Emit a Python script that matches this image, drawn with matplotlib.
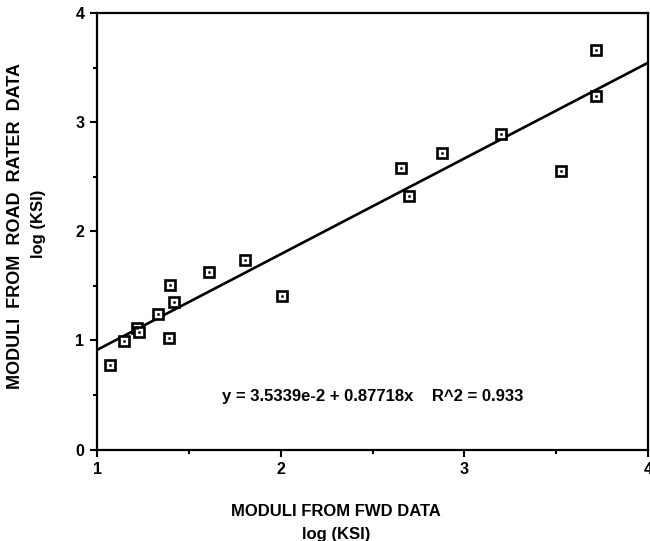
import matplotlib
matplotlib.use("Agg")
import matplotlib.pyplot as plt
import numpy as np

plt.rcParams['font.family'] = ['Liberation Sans', 'DejaVu Sans']
plt.rcParams['font.weight'] = 'bold'

fwd = [1.071, 1.149, 1.219, 1.230, 1.330, 1.390, 1.397, 1.421, 1.608, 1.806, 2.005,
       2.653, 2.700, 2.876, 3.198, 3.524, 3.716, 3.716]
road = [0.775, 0.995, 1.112, 1.078, 1.240, 1.026, 1.509, 1.356, 1.622, 1.739, 1.411,
        2.580, 2.319, 2.717, 2.894, 2.549, 3.659, 3.243]
intercept = 3.5339e-2
slope = 0.87718
eq_text = "y = 3.5339e-2 + 0.87718x    R^2 = 0.933"

fig = plt.figure(figsize=(6.5, 5.41), dpi=100)
ax = fig.add_axes([97/650, 1 - 449.5/541, (648-97)/650, (449.5-13)/541])

xl = np.array([1.0, 4.0])
ax.plot(xl, intercept + slope * xl, color='black', lw=1.9, zorder=2)
ax.plot(fwd, road, linestyle='none', marker='s', markersize=6.5, mfc='white',
        mec='black', mew=1.9, zorder=3)
ax.plot(fwd, road, linestyle='none', marker='s', markersize=1.2, mfc='black',
        mec='black', mew=0.5, zorder=4)

ax.set_xlim(1, 4)
ax.set_ylim(0, 4)
ax.set_xticks([1, 2, 3, 4])
ax.set_yticks([0, 1, 2, 3, 4])
ax.set_xticks([1.5, 2.5, 3.5], minor=True)
ax.set_yticks([0.5, 1.5, 2.5, 3.5], minor=True)
ax.tick_params(which='both', direction='out', width=1.5, top=False, right=False)
ax.tick_params(which='major', length=5, labelsize=11.5, pad=4)
ax.tick_params(which='minor', length=3)
for lbl in ax.get_xticklabels() + ax.get_yticklabels():
    lbl.set_fontweight('bold')
for s in ax.spines.values():
    s.set_linewidth(1.6)

ax.text(373/650, 1 - 396/541, eq_text, transform=fig.transFigure, ha='center',
        va='center', fontsize=12, fontweight='bold')

fig.text(336/650, 1 - 512/541, "MODULI FROM FWD DATA", ha='center', va='center',
         fontsize=12, fontweight='bold')
fig.text(336/650, 1 - 535/541, "log (KSI)", ha='center', va='center',
         fontsize=12, fontweight='bold')
fig.text(16/650, 1 - 226/541, "MODULI  FROM  ROAD  RATER  DATA", ha='center',
         va='center', rotation=90, fontsize=13, fontweight='bold')
fig.text(38/650, 1 - 224/541, "log (KSI)", ha='center', va='center',
         rotation=90, fontsize=12, fontweight='bold')

fig.savefig("out.png", dpi=100)
